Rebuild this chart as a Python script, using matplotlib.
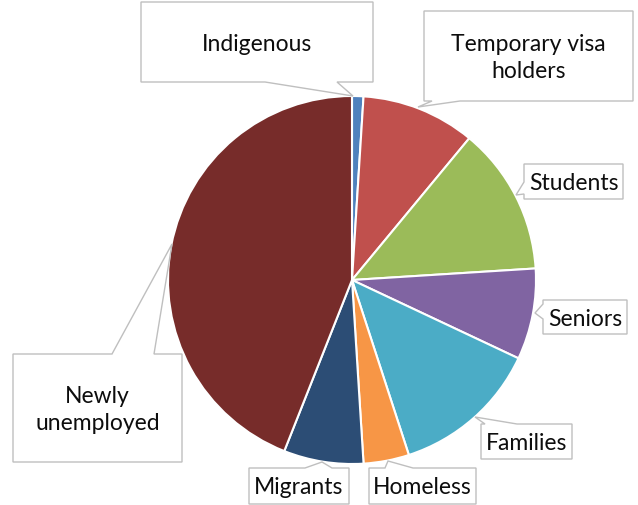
import matplotlib
matplotlib.use("Agg")
import matplotlib.pyplot as plt
from matplotlib.patches import Polygon

W, H = 638, 506

# Pie data (clockwise from 12 o'clock)
groups = ["Indigenous", "Temporary visa\nholders", "Students", "Seniors",
          "Families", "Homeless", "Migrants", "Newly\nunemployed"]
shares = [1, 10, 13, 8, 13, 4, 7, 44]
colors = ["#4F81BD", "#C0504D", "#9BBB59", "#8064A2",
          "#4BACC6", "#F79646", "#2C4D75", "#772C2A"]

plt.rcParams['font.family'] = ['Lato', 'DejaVu Sans']

fig = plt.figure(figsize=(W / 100, H / 100), dpi=100)
ax = fig.add_axes([0, 0, 1, 1])
ax.set_xlim(0, W)
ax.set_ylim(0, H)
ax.set_aspect('equal')
ax.axis('off')


def fy(y):
    """Convert image y (top-down) to axes y."""
    return H - y


ax.pie(shares, colors=colors, startangle=90, counterclock=False,
       center=(352, fy(281)), radius=184,
       wedgeprops=dict(edgecolor='white', linewidth=1.5))
ax.set_xlim(0, W)
ax.set_ylim(0, H)


def callout(text, box, side, base, tip):
    """Box (x0, y0, x1, y1) in image px, pointer on given side."""
    x0, y0, x1, y1 = box
    a, b = base
    if side == 'top':
        pts = [(x0, y0), (a, y0), tip, (b, y0), (x1, y0), (x1, y1), (x0, y1)]
    elif side == 'bottom':
        pts = [(x0, y0), (x1, y0), (x1, y1), (b, y1), tip, (a, y1), (x0, y1)]
    else:  # left
        pts = [(x0, y0), (x1, y0), (x1, y1), (x0, y1), (x0, b), tip, (x0, a)]
    poly = Polygon([(x, fy(y)) for x, y in pts], closed=True,
                   facecolor='white', edgecolor='#BFBFBF', linewidth=1.0,
                   zorder=5)
    ax.add_patch(poly)
    ax.text((x0 + x1) / 2, fy((y0 + y1) / 2 + 1), text, ha='center',
            va='center', fontsize=16.5, color='#0d0d0d', zorder=6,
            linespacing=1.3)


callout(groups[0], (141, 3, 373, 83), 'bottom', (265, 337), (353, 97))
callout(groups[1], (424, 12, 633, 102), 'bottom', (432, 460), (418, 108))
callout(groups[2], (524, 165, 623, 200), 'left', (183, 195), (516, 196))
callout(groups[3], (543, 301, 627, 335), 'left', (305, 320), (535, 314))
callout(groups[4], (481, 425, 572, 460), 'top', (485, 517), (475, 418))
callout(groups[5], (369, 469, 476, 505), 'top', (385, 413), (388, 462))
callout(groups[6], (249, 469, 349, 505), 'top', (305, 332), (322, 463))
callout(groups[7], (13, 355, 182, 463), 'top', (112, 154), (172, 245))

fig.savefig("out.png", dpi=100)
